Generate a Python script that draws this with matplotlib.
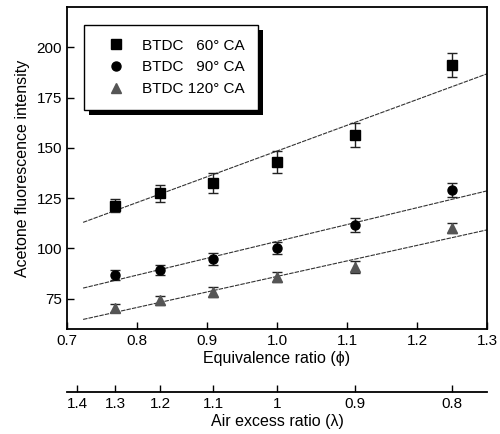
import numpy as np
import matplotlib
matplotlib.use("Agg")
import matplotlib.pyplot as plt
from matplotlib.lines import Line2D
from matplotlib.patches import Rectangle
from matplotlib.transforms import IdentityTransform

plt.rcParams['font.family'] = ['Liberation Sans', 'DejaVu Sans']
plt.rcParams['font.size'] = 10

# air excess ratio of each test point, phi = 1/lambda
lam = np.array([1.3, 1.2, 1.1, 1.0, 0.9, 0.8])
phi = 1.0 / lam

# acetone fluorescence intensity and error bars
y60 = [121.3, 127.4, 132.4, 142.8, 156.5, 191.1]
e60 = [3.2, 4.3, 5.0, 5.5, 6.0, 6.0]
y90 = [86.9, 89.4, 94.8, 100.4, 111.7, 129.2]
e90 = [2.5, 2.5, 3.0, 3.0, 3.5, 3.5]
y120 = [70.4, 74.2, 78.2, 85.8, 90.7, 110.2]
e120 = [2.2, 2.2, 2.5, 2.5, 3.0, 2.5]

# linear fit lines (slope, intercept) as drawn in the figure
fit60 = (127.9, 20.5)
fit90 = (83.7, 19.8)
fit120 = (77.1, 9.0)
fit_range = (0.723, 1.3)

labels = ['BTDC   60\u00b0 CA', 'BTDC   90\u00b0 CA', 'BTDC 120\u00b0 CA']
x_ticks = [0.7, 0.8, 0.9, 1.0, 1.1, 1.2, 1.3]
y_ticks = [75, 100, 125, 150, 175, 200]
lam_ticks = [1.4, 1.3, 1.2, 1.1, 1.0, 0.9, 0.8]
lam_labels = ['1.4', '1.3', '1.2', '1.1', '1', '0.9', '0.8']

fig = plt.figure(figsize=(5.0, 4.34), dpi=100)
ax = fig.add_axes([0.134, 0.242, 0.84, 0.742])

series = [
    (y60, e60, fit60, 's', 'black'),
    (y90, e90, fit90, 'o', 'black'),
    (y120, e120, fit120, '^', '#555555'),
]
handles = []
xf = np.array(fit_range)
for (y, e, fit, mk, col), lab in zip(series, labels):
    ax.plot(xf, fit[0] * xf + fit[1], color='#333333', lw=0.8,
            ls=(0, (4, 1)), zorder=2)
    ax.errorbar(phi, y, yerr=e, fmt=mk, color=col, ms=6.5, ecolor='#222222',
                elinewidth=1.0, capsize=3.5, capthick=1.0, zorder=3)
    handles.append(Line2D([], [], marker=mk, color=col, ls='none', ms=6.5))

ax.set_xlim(0.7, 1.3)
ax.set_ylim(60, 220)
ax.set_xticks(x_ticks)
ax.set_xticklabels(['%.1f' % v for v in x_ticks])
ax.set_yticks(y_ticks)
ax.tick_params(direction='in', length=5, width=1.0, labelsize=11)
for s in ax.spines.values():
    s.set_linewidth(1.3)
ax.set_xlabel('Equivalence ratio (\u03d5)', fontsize=11.5, labelpad=2)
ax.set_ylabel('Acetone fluorescence intensity', fontsize=11.5, labelpad=5)

leg = ax.legend(handles, labels, loc='upper left',
                bbox_to_anchor=(0.04, 0.944), borderaxespad=0,
                frameon=True, fancybox=False, edgecolor='black',
                framealpha=1, borderpad=0.9, handlelength=2.4,
                handletextpad=0.5, labelspacing=0.5, fontsize=11)
leg.get_frame().set_linewidth(1.0)
leg.set_zorder(5)

# second axis for the air excess ratio
ax2 = fig.add_axes([0.134, 0.097, 0.84, 0.001])
ax2.set_xlim(0.7, 1.3)
ax2.set_xticks([1.0 / v for v in lam_ticks])
ax2.set_xticklabels(lam_labels)
ax2.set_yticks([])
for k in ['top', 'left', 'right']:
    ax2.spines[k].set_visible(False)
ax2.spines['bottom'].set_linewidth(1.3)
ax2.patch.set_visible(False)
ax2.tick_params(axis='x', direction='in', length=5, width=1.0, labelsize=11)
ax2.set_xlabel('Air excess ratio (\u03bb)', fontsize=11.5, labelpad=2)

# heavy drop shadow behind the legend box
fig.canvas.draw()
bb = leg.get_window_extent()
ax.add_patch(Rectangle((bb.x0 + 5, bb.y0 - 5), bb.width, bb.height,
                       transform=IdentityTransform(), facecolor='black',
                       edgecolor='none', zorder=4.5, clip_on=False))

fig.savefig('out.png', dpi=100)
